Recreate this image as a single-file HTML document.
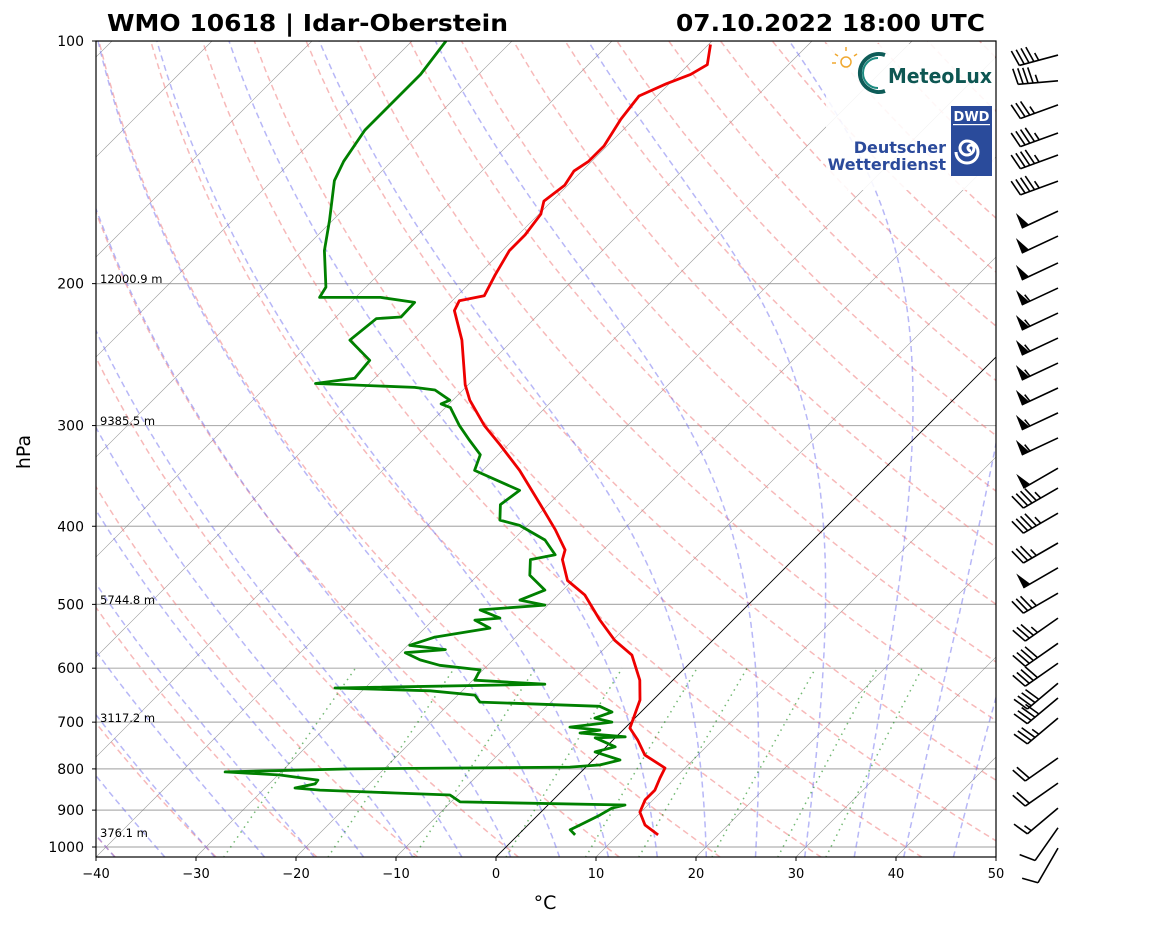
<!DOCTYPE html>
<html><head><meta charset="utf-8"><style>
html,body{margin:0;padding:0;background:#fff;}
svg{display:block;font-family:"DejaVu Sans","Liberation Sans",sans-serif;}
</style></head><body>
<svg id="chart" width="1160" height="925" viewBox="0 0 1160 925" xmlns="http://www.w3.org/2000/svg">
<defs><clipPath id="plotclip"><rect x="96" y="41" width="900" height="816"/></clipPath></defs>
<text x="107" y="31" font-size="23" font-weight="bold" textLength="401" lengthAdjust="spacingAndGlyphs">WMO 10618 | Idar-Oberstein</text>
<text x="676" y="31" font-size="23" font-weight="bold" textLength="309" lengthAdjust="spacingAndGlyphs">07.10.2022 18:00 UTC</text>
<g id="plot" clip-path="url(#plotclip)"></g>
<g id="axes"></g>
<g id="barbs"></g>
<g id="logos">
  <rect x="826" y="44" width="169" height="146" fill="#fff" opacity="0.88"/>
  <g>
    <circle cx="846" cy="62" r="5" fill="none" stroke="#f0a830" stroke-width="1.5"/>
    <path d="M846 51v-4M838 56l-3-2M836 63h-4M854 56l3-2" stroke="#f0a830" stroke-width="1.5"/>
    <path d="M885 55 A19 19 0 1 0 885 91" fill="none" stroke="#0e5c58" stroke-width="4"/>
    <path d="M878 58 A15 15 0 1 0 878 88" fill="none" stroke="#1c8a80" stroke-width="2"/>
    <text x="888" y="83" font-size="20" font-weight="bold" fill="#0e5753" textLength="104" lengthAdjust="spacingAndGlyphs">MeteoLux</text>
  </g>
  <g>
    <rect x="951" y="106" width="41" height="70" fill="#2a4b9b"/>
    <text x="971.5" y="121" font-size="13" font-weight="bold" fill="#fff" text-anchor="middle">DWD</text>
    <rect x="953" y="124" width="37" height="1.2" fill="#fff"/>
    <path d="M971 151 a3 3 0 1 1 3 -3 a7 7 0 1 1 -7 -7 a11 11 0 1 1 -11 11" fill="none" stroke="#fff" stroke-width="3"/>
    <text x="946" y="153" font-size="16" font-weight="bold" fill="#2b4a9b" text-anchor="end">Deutscher</text>
    <text x="946" y="170" font-size="16" font-weight="bold" fill="#2b4a9b" text-anchor="end">Wetterdienst</text>
  </g>
</g>
</svg>
<script>
// ---- data ----
const tempP = [966,939,905,874,850,821,798,769,737,712,657,621,578,554,523,487,467,440,428,404,376,341,317,300,279,267,235,216,210,207,195,182,174,164,158,151,145,141,135,125,117,113,110,107,101];
const tempT = [14.0,11.7,9.9,9.2,9.2,8.5,8.0,4.7,2.5,0.5,-1.3,-3.3,-6.6,-9.8,-13.3,-17.3,-20.5,-23.1,-23.8,-26.8,-30.8,-36.3,-40.8,-44.3,-48.3,-50.3,-55.1,-58.8,-59.3,-57.3,-58.3,-59.3,-59.3,-59.8,-60.8,-60.3,-60.8,-60.3,-60.3,-61.3,-61.8,-60.3,-58.8,-58.1,-59.8];
const dewP = [966,952,939,913,895,887,879,862,857,850,845,835,826,814,807,800,796,791,780,762,751,732,730,722,716,710,700,692,680,669,661,648,640,635,628,621,603,595,586,574,569,562,549,535,523,520,508,501,494,480,460,440,434,416,399,393,376,361,341,326,313,300,285,282,279,271,269,266,262,249,235,221,220,211,208,208,202,182,167,149,141,129,118,110,100];
const dewT = [5.7,4.7,5.2,6.2,6.7,7.7,-9.1,-10.8,-16.5,-24.3,-27.0,-25.4,-25.5,-29.8,-35.6,-23.4,-1.6,1.2,2.7,-0.6,0.9,-2.0,0.9,-4.0,-2.3,-5.6,-1.9,-4.0,-2.9,-4.7,-17.1,-18.3,-23.2,-33.0,-12.4,-19.8,-20.3,-24.8,-27.3,-29.5,-25.8,-29.8,-28.1,-23.5,-25.8,-23.5,-26.3,-20.3,-23.3,-21.8,-24.8,-26.3,-24.3,-26.8,-30.8,-33.3,-34.8,-34.3,-40.8,-41.8,-44.3,-46.8,-49.5,-50.8,-50.3,-52.8,-55.1,-65.4,-62.0,-62.3,-66.3,-65.8,-63.5,-63.6,-67.5,-73.6,-74.0,-77.8,-80.3,-83.8,-84.8,-85.8,-85.8,-85.8,-86.6];
const barbP = [104.7,112.7,120.7,130.8,139.3,150.1,163.5,175.6,189.6,203.7,218.8,235,252.4,271,291,312.6,340.8,360.7,387.5,422,453,487,523,562,595,630,657,696,780,838,900,952,1009];
const barbSpd = [45,45,35,45,45,45,50,50,50,55,55,55,55,55,55,55,50,45,45,35,50,35,35,40,40,40,40,35,20,20,15,10,10];
const barbDir = [255,265,250,250,250,250,245,245,245,245,245,245,245,245,245,245,240,240,240,240,240,240,235,235,235,230,230,230,235,235,230,215,210];
const pTicks = [100,200,300,400,500,600,700,800,900,1000];
const tTicks = [-40,-30,-20,-10,0,10,20,30,40,50];
const heightP = [197.3,296,494,692,961];
const heightLbl = ['12000.9 m','9385.5 m','5744.8 m','3117.2 m','376.1 m'];
const dryTheta = [-50,-40,-30,-20,-10,0,10,20,30,40,50,60,70,80,90,100,110,120,130,140,150,160,170,180,190,200];
const moistT0 = [-50,-45,-40,-35,-30,-25,-20,-15,-10,-5,0,5,10,15,20,25,30,35,40,45];
const mixW = [0.0004,0.001,0.002,0.004,0.007,0.01,0.016,0.024,0.032];

// ---- axis functions ----
const X0=96,X1=996,Y0=41,Y1=857,PB=1030;
function yP(p){return Y0+806*Math.log10(p/100);}
function xT(T,p){return X0+10*(T+40)+(Y1-yP(p));}
const NS='http://www.w3.org/2000/svg';
function mk(tag,attrs,parent){const e=document.createElementNS(NS,tag);for(const k in attrs)e.setAttribute(k,attrs[k]);parent.appendChild(e);return e;}
function pathFrom(ps,ts){return ps.map((p,i)=>(i?'L':'M')+xT(ts[i],p).toFixed(1)+' '+yP(p).toFixed(1)).join('');}
const plot=document.getElementById('plot'),axes=document.getElementById('axes'),barbs=document.getElementById('barbs');

pTicks.forEach(p=>{const l=mk('line',{x1:X0,x2:X1,y1:yP(p),y2:yP(p),stroke:'#b0b0b0','stroke-width':1.2},plot);

});
for(let T=-160;T<=50;T+=10){const l=mk('line',{x1:xT(T,PB),y1:yP(PB),x2:xT(T,100),y2:yP(100),stroke:'#7a7a7a','stroke-width':0.6,opacity:0.8},plot);

}
const presLevels=[];for(let p=PB;p>=100;p-=10)presLevels.push(p);
dryTheta.forEach(th=>{const ts=presLevels.map(p=>(th+273.15)*Math.pow(p/1000,0.2857)-273.15);
const e=mk('path',{d:pathFrom(presLevels,ts),fill:'none',stroke:'#f08080','stroke-opacity':0.55,'stroke-width':1.5,'stroke-dasharray':'6,4'},plot);

});
function dTdp(p,T){const es=6.112*Math.exp(17.67*(T-273.15)/(T-29.65));const rs=0.622*es/(p-es);const Rd=287.04,Cp=1005.7,Lv=2.501e6;
return (Rd*T+Lv*rs)/(Cp+Lv*Lv*rs*0.622/(Rd*T*T))/p;}
moistT0.forEach(t0=>{let ps=[],ts=[];let T=t0+273.15;
for(let p=1000;p<PB;p+=2){T+=dTdp(p,T)*2;}const Tb=T;
T=t0+273.15;const up=[],upT=[];for(let p=1000;p>=100;p-=2){up.push(p);upT.push(T-273.15);const k1=dTdp(p,T);const k2=dTdp(p-1,T-k1);T-=k2*2;}
ps=[PB].concat(up);ts=[Tb-273.15].concat(upT);
const e=mk('path',{d:pathFrom(ps,ts),fill:'none',stroke:'#7070f0','stroke-opacity':0.5,'stroke-width':1.5,'stroke-dasharray':'6,4'},plot);

});
const mixP=[];for(let p=PB;p>=600;p-=10)mixP.push(p);
mixW.forEach(w=>{const ts=mixP.map(p=>{const e=w*p/(0.622+w);const l=Math.log(e/6.112);return 243.5*l/(17.67-l);});
const e=mk('path',{d:pathFrom(mixP,ts),fill:'none',stroke:'#008000','stroke-opacity':0.55,'stroke-width':1.5,'stroke-dasharray':'1.5,4.5'},plot);

});
const z=mk('line',{x1:xT(0,PB),y1:yP(PB),x2:xT(0,100),y2:yP(100),stroke:'#000','stroke-width':0.9},plot);


const tl=mk('path',{d:pathFrom(tempP,tempT),fill:'none',stroke:'#ee0000','stroke-width':2.8,'stroke-linejoin':'round'},plot);


const dl=mk('path',{d:pathFrom(dewP,dewT),fill:'none',stroke:'#008000','stroke-width':2.8,'stroke-linejoin':'round'},plot);


heightP.forEach((p,i)=>{const t=mk('text',{x:100,y:yP(p)+4,'font-size':11.5,fill:'#000'},plot);t.textContent=heightLbl[i];

});
const fr=mk('rect',{x:X0,y:Y0,width:X1-X0,height:Y1-Y0,fill:'none',stroke:'#000','stroke-width':1.2},axes);


pTicks.forEach(p=>{mk('line',{x1:X0-4,x2:X0,y1:yP(p),y2:yP(p),stroke:'#000'},axes);
const t=mk('text',{x:84,y:yP(p)+5,'font-size':14,'text-anchor':'end'},axes);t.textContent=p;

});
tTicks.forEach(T=>{const x=X0+10*(T+40);mk('line',{x1:x,x2:x,y1:Y1,y2:Y1+4,stroke:'#000'},axes);
const t=mk('text',{x:x,y:Y1+21,'font-size':13,'text-anchor':'middle'},axes);t.textContent=(T<0?'\u2212'+(-T):T);

});
const xl=mk('text',{x:545,y:909,'font-size':19,'text-anchor':'middle'},axes);xl.textContent='\u00b0C';


const yl=mk('text',{x:30,y:452,'font-size':19,'text-anchor':'middle',transform:'rotate(-90 30 452)'},axes);yl.textContent='hPa';


barbP.forEach((p,i)=>{const g=mk('g',{},barbs);


const tx=1058,ty=yP(p)-2;const d=barbDir[i]*Math.PI/180;const sx=Math.sin(d),sy=-Math.cos(d);const nx=-sy,ny=sx;
const L=40,H=16;const P=a=>[tx+sx*a,ty+sy*a];
const e=P(L);mk('line',{x1:tx,y1:ty,x2:e[0],y2:e[1],stroke:'#000','stroke-width':1.6},g);
let s=Math.round(barbSpd[i]/5)*5;let pos=L;
while(s>=50){const a=P(pos),b=P(pos-8),c=P(pos-1);mk('polygon',{points:`${a[0]},${a[1]} ${b[0]},${b[1]} ${c[0]+nx*H},${c[1]+ny*H}`,fill:'#000'},g);pos-=9;s-=50;}
while(s>=10){const a=P(pos);mk('line',{x1:a[0],y1:a[1],x2:a[0]+nx*H+sx*4,y2:a[1]+ny*H+sy*4,stroke:'#000','stroke-width':1.6},g);pos-=5;s-=10;}
if(s>=5){if(pos===L)pos-=5;const a=P(pos);mk('line',{x1:a[0],y1:a[1],x2:a[0]+nx*H/2+sx*2,y2:a[1]+ny*H/2+sy*2,stroke:'#000','stroke-width':1.6},g);}
});
</script>
</body></html>
